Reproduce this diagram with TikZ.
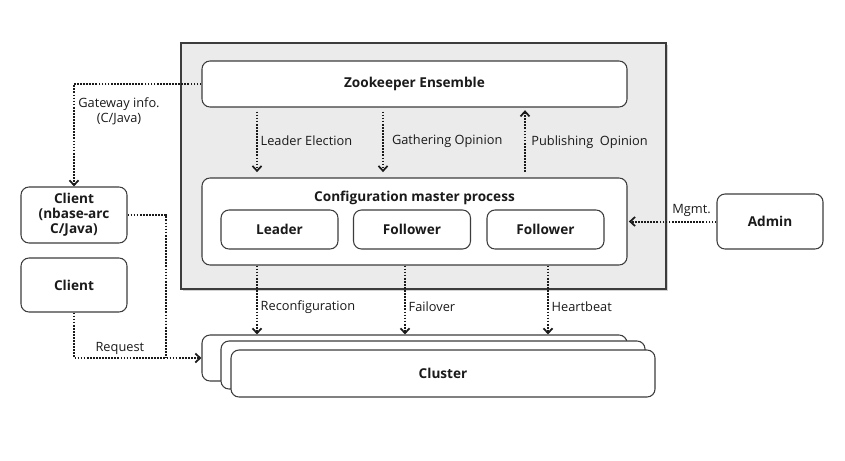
\documentclass[tikz,border=0pt]{standalone}
\usepackage{fontspec}
\setmainfont{Open Sans}
\usetikzlibrary{arrows.meta,positioning,shadows}
\definecolor{Ink}{HTML}{1A1A1A}
\definecolor{Edge}{HTML}{3C3C3C}
\definecolor{Panel}{HTML}{EBEBEB}

\begin{document}
\begin{tikzpicture}[x=0.75pt,y=-0.75pt,>={Straight Barb[angle=85:5pt,line width=1.3pt]},
    font=\fontsize{9.6}{11.5}\selectfont,text=Ink,
    box/.style={draw=Edge,line width=0.8pt,rounded corners=6pt,fill=white,font=\fontsize{10.2}{12}\selectfont\bfseries,align=center},
    dots/.style={line width=1.5pt,dash pattern=on 1.3pt off 1pt,Ink},
    flow/.style={->,dots},
    lbl/.style={font=\fontsize{9.6}{11.5}\selectfont,text=Ink,inner sep=2pt}]
  \useasboundingbox (0,0) rectangle (845,460);
  % control panel
  \node[draw=Edge,line width=0.8pt,fill=Panel,minimum width=363.75pt,minimum height=184.5pt,
    drop shadow={shadow xshift=1.2pt,shadow yshift=-1.2pt,fill=gray!70}] (panel) at (423.5,166) {};
  \node[box,minimum width=318.75pt,minimum height=34.5pt] (zk) at (414.5,84) {Zookeeper Ensemble};
  \node[box,minimum width=318.75pt,minimum height=65.25pt] (cmp) at (414.5,221.5) {};
  \node[font=\fontsize{10.2}{12}\selectfont\bfseries] (cmptitle) at (414.5,198) {Configuration master process};
  \node[box,minimum width=87.75pt,minimum height=29.25pt] (leader) at (279.5,229.5) {Leader};
  \node[box,minimum width=87.75pt,minimum height=29.25pt] (follower1) at (412,229.5) {Follower};
  \node[box,minimum width=87.75pt,minimum height=29.25pt] (follower2) at (545.5,229.5) {Follower};
  % outside
  \node[box,minimum width=79.5pt,minimum height=42pt,font=\fontsize{10.2}{11.2}\selectfont\bfseries] (client1) at (74,215) {Client\\(nbase-arc\\C/Java)};
  \node[box,minimum width=79.5pt,minimum height=40.5pt] (client2) at (74,285) {Client};
  \node[box,minimum width=79.5pt,minimum height=41.25pt] (admin) at (770,221.5) {Admin};
  % cluster stack
  \node[box,minimum width=318.75pt,minimum height=34.5pt] (cluster1) at (414.5,358) {};
  \node[box,minimum width=318pt,minimum height=36pt] (cluster2) at (433,365) {};
  \node[box,minimum width=318pt,minimum height=35.25pt] (cluster3) at (443,373.5) {Cluster};

  \coordinate (xle) at (257,0);
  \coordinate (xgo) at (383,0);
  \coordinate (xpo) at (525,0);
  \coordinate (xfo) at (405,0);
  \coordinate (xhb) at (548,0);
  \coordinate (mrg) at (166,358);

  \draw[flow,shorten <=3pt,shorten >=4pt] (zk.south -| xle) -- node[lbl,right,yshift=1pt] {Leader Election} (cmp.north -| xle);
  \draw[flow,shorten <=3pt,shorten >=4pt] (zk.south -| xgo) -- node[lbl,right,xshift=4pt,yshift=1pt] {Gathering Opinion} (cmp.north -| xgo);
  \draw[flow,shorten <=4pt,shorten >=2pt] (cmp.north -| xpo) -- node[lbl,right,xshift=2pt] {Publishing~ Opinion} (zk.south -| xpo);

  \draw[flow] (zk.west) -| (client1.north);
  \node[lbl,align=center] (gwinfo) at (119,111) {Gateway info.\\(C/Java)};

  \draw[flow,shorten >=1pt] (admin.west) -- node[lbl,above,pos=0.28,yshift=1pt] {Mgmt.} (cmp.east);

  \draw[flow] (cmp.south -| xle) -- node[lbl,right,pos=0.6] {Reconfiguration} (cluster1.north -| xle);
  \draw[flow] (cmp.south -| xfo) -- node[lbl,right,pos=0.6] {Failover} (cluster1.north -| xfo);
  \draw[flow] (cmp.south -| xhb) -- node[lbl,right,pos=0.6] {Heartbeat} (cluster1.north -| xhb);

  \draw[dots] (client1.east) -| (mrg);
  \draw[flow] (client2.south) |- node[lbl,above,pos=0.68] {Request} (cluster1.west);
\end{tikzpicture}
\end{document}
